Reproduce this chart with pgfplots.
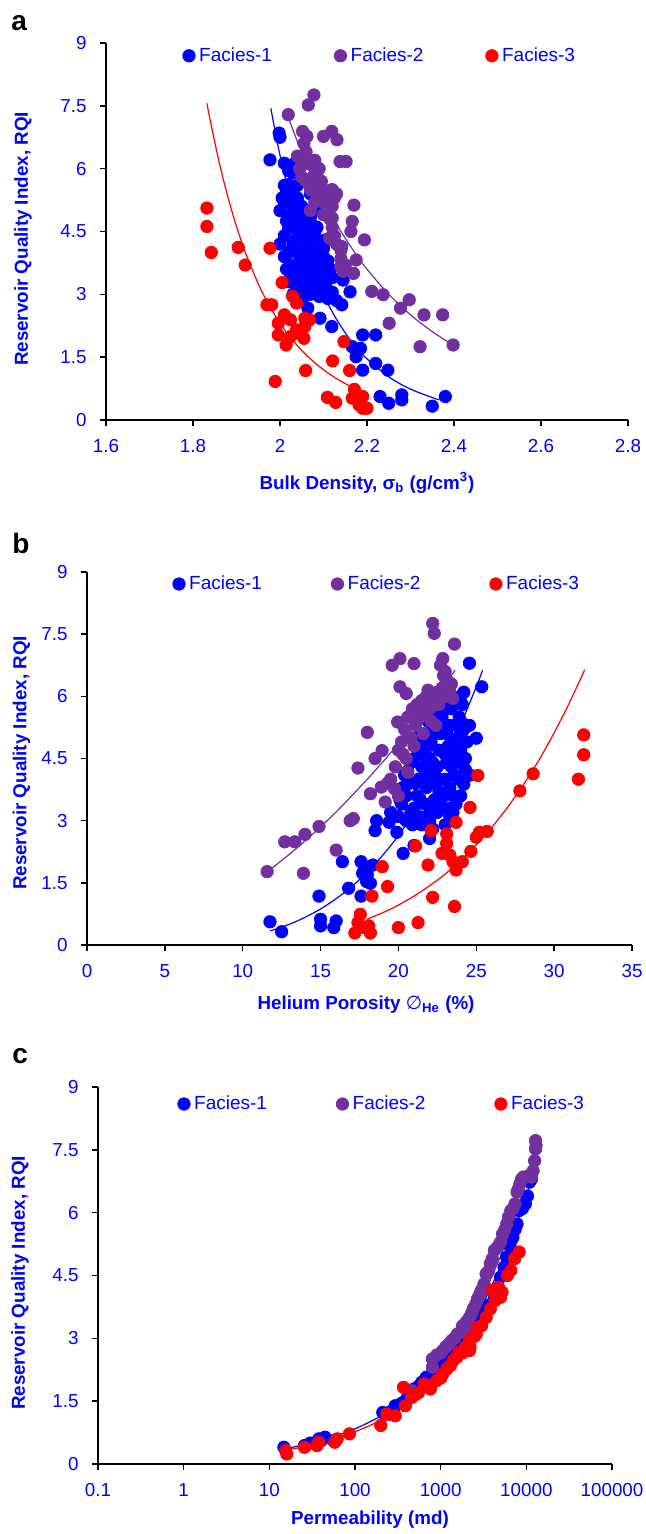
\documentclass[border=0pt]{standalone}
\usepackage{fontspec}
\setmainfont{Liberation Sans}
\newfontfamily\djv{DejaVu Sans}
\usepackage{pgfplots}
\pgfplotsset{compat=1.18}
\definecolor{fblue}{RGB}{0,0,255}
\definecolor{fpurple}{RGB}{112,48,160}
\definecolor{fred}{RGB}{255,0,0}
\newcommand\lblfont{\fontsize{9.4}{11}\selectfont\bfseries}
\pgfplotsset{
  rqi/.style={
    scale only axis,
    anchor=south west,
    axis x line*=bottom, axis y line*=left,
    axis line style={black, line width=0.8pt},
    tick align=outside,
    major tick length=3pt,
    tick style={black, line width=0.7pt},
    ymin=0, ymax=9,
    ytick={0,1.5,3,4.5,6,7.5,9},
    yticklabels={0,1.5,3,4.5,6,7.5,9},
    ticklabel style={font=\fontsize{9.4}{10}\selectfont, text=fblue},
    yticklabel style={anchor=east, inner sep=0pt, xshift=-6.5pt},
    xticklabel style={anchor=north, inner sep=0pt, yshift=-6.5pt},
    every axis y label/.style={rotate=90, anchor=center, font=\lblfont, text=fblue},
    every axis x label/.style={anchor=center, font=\lblfont, text=fblue},
    clip=false,
    legend columns=3,
    legend image code/.code={\draw[mark repeat=2,mark phase=2,##1] plot coordinates {(0pt,0pt) (3.1pt,0pt) (6.2pt,0pt)};},
    legend style={draw=none, fill=none, inner sep=0pt, outer sep=0pt, anchor=west,
      nodes={inner sep=0pt, text=fblue, font=\fontsize{9.5}{10}\selectfont},
      /tikz/every odd column/.append style={column sep=2pt}},
  },
  dots/.style={only marks, mark=*, mark size=3.1pt, color=#1, mark options={draw=none, fill=#1}},
  trend/.style={no marks, smooth, color=#1, line width=0.6pt, forget plot},
}
\begin{document}
\begin{tikzpicture}
\useasboundingbox (0pt,-767pt) rectangle (323pt,0pt);
\node[anchor=base west, inner sep=0pt, font=\bfseries\fontsize{14}{14}\selectfont] at (5.5pt,-15.5pt) {a};
\node[anchor=base west, inner sep=0pt, font=\bfseries\fontsize{14}{14}\selectfont] at (6pt,-276.5pt) {b};
\node[anchor=base west, inner sep=0pt, font=\bfseries\fontsize{14}{14}\selectfont] at (6pt,-531.5pt) {c};

% ---------------- Panel a ----------------
\begin{axis}[rqi, at={(53pt,-210pt)}, width=261pt, height=188.5pt,
  xmin=1.6, xmax=2.8,
  xtick={1.6,1.8,2.0,2.2,2.4,2.6,2.8},
  xticklabels={1.6,1.8,2,2.2,2.4,2.6,2.8},
  xlabel={Bulk Density, σ\textsubscript{b} (g/cm\textsuperscript{3})},
  ylabel={Reservoir Quality Index, RQI},
  xlabel style={at={([yshift=-31.5pt]rel axis cs:0.5,0)}},
  ylabel style={at={([xshift=-41.5pt,yshift=-3.75pt]rel axis cs:0,0.5)}},
  legend style={at={([xshift=38.4pt,yshift=-6.4pt]rel axis cs:0,1)},
    /tikz/every even column/.append style={column sep=31.1pt}},
]
\addplot[dots=fblue] coordinates {
(1.977,6.21)(1.998,6.85)(2.0,6.75)(2.01,6.13)(2.0,5.0)(2.005,5.3)(2.01,5.6)(2.02,5.62)(2.015,5.45)(2.03,5.5)
(2.025,5.2)(2.04,5.3)(2.05,5.1)(2.035,4.95)(2.0,4.2)(2.01,4.4)(2.015,4.75)(2.02,4.9)(2.03,4.6)(2.04,4.7)
(2.05,4.8)(2.06,4.7)(2.065,4.5)(2.07,4.3)(2.08,4.45)(2.09,4.2)(2.1,4.1)(2.075,4.0)(2.06,4.1)(2.05,4.3)
(2.04,4.0)(2.03,4.2)(2.02,4.0)(2.01,3.9)(2.015,3.6)(2.025,3.7)(2.035,3.5)(2.045,3.8)(2.055,3.6)(2.065,3.85)
(2.08,3.7)(2.09,3.5)(2.1,3.6)(2.11,3.8)(2.115,3.6)(2.12,3.4)(2.105,3.2)(2.095,3.1)(2.085,3.3)(2.075,3.2)
(2.07,3.0)(2.06,3.1)(2.05,3.3)(2.04,3.2)(2.03,3.0)(2.02,3.3)(2.025,3.45)(2.045,3.05)(2.055,2.95)(2.08,3.05)
(2.09,2.95)(2.11,2.9)(2.12,3.05)(2.13,2.85)(2.06,5.7)(2.07,5.4)(2.08,5.0)(2.07,4.85)(2.03,5.9)(2.04,6.0)
(2.03,5.0)(2.045,4.5)(2.055,4.0)(2.065,3.5)(2.085,3.95)(2.095,3.75)(2.035,4.3)(2.05,3.7)(2.075,4.65)(2.085,4.6)
(2.06,4.95)(2.1,3.3)(2.01,5.2)(2.02,4.6)(2.04,5.6)(2.03,6.1)(2.02,5.95)(2.1,3.9)(2.105,4.3)(2.06,3.35)
(2.064,2.67)(2.092,2.43)(2.119,2.23)(2.145,3.34)(2.161,3.06)(2.142,2.75)(2.166,1.75)(2.19,2.03)(2.22,2.03)(2.185,1.71)
(2.175,1.51)(2.19,1.19)(2.22,1.35)(2.248,1.19)(2.23,0.56)(2.25,0.4)(2.28,0.6)(2.28,0.48)(2.35,0.33)(2.38,0.56)
};
\addlegendentry{Facies-1}
\addplot[dots=fpurple] coordinates {
(2.019,7.29)(2.065,7.52)(2.078,7.76)(2.052,6.89)(2.062,6.77)(2.055,6.6)(2.1,6.77)(2.119,6.89)(2.131,6.69)(2.138,6.17)
(2.152,6.17)(2.04,6.3)(2.045,6.0)(2.05,6.2)(2.06,6.4)(2.07,6.1)(2.08,6.2)(2.085,5.9)(2.09,6.0)(2.05,5.8)
(2.06,5.7)(2.07,5.5)(2.075,5.8)(2.08,5.6)(2.095,5.7)(2.1,5.5)(2.11,5.4)(2.12,5.5)(2.125,5.3)(2.13,5.4)
(2.09,5.3)(2.1,5.2)(2.11,5.05)(2.12,5.1)(2.08,5.2)(2.07,5.0)(2.1,4.9)(2.115,4.8)(2.12,4.6)(2.125,4.4)
(2.13,4.2)(2.14,4.05)(2.14,3.85)(2.15,3.7)(2.145,3.55)(2.17,5.13)(2.166,4.74)(2.163,4.5)(2.194,4.3)(2.142,4.14)
(2.14,3.66)(2.169,3.5)(2.175,3.82)(2.12,4.82)(2.114,4.34)(2.211,3.07)(2.237,2.99)(2.277,2.67)(2.297,2.87)(2.251,2.31)
(2.331,2.51)(2.374,2.51)(2.322,1.75)(2.398,1.79)
};
\addlegendentry{Facies-2}
\addplot[dots=fred] coordinates {
(1.832,5.06)(1.832,4.62)(1.842,4.0)(1.904,4.12)(1.92,3.7)(1.977,4.1)(2.005,3.28)(1.97,2.75)(1.981,2.75)(2.029,2.95)
(2.038,2.79)(2.01,2.51)(1.996,2.31)(2.024,2.39)(2.057,2.43)(2.068,2.39)(2.038,2.15)(2.057,2.23)(1.996,2.03)(2.014,1.79)
(2.024,1.99)(2.055,1.95)(2.043,2.07)(2.147,1.87)(1.989,0.92)(2.059,1.18)(2.121,1.41)(2.16,1.18)(2.109,0.54)(2.128,0.42)
(2.171,0.73)(2.166,0.52)(2.19,0.56)(2.182,0.36)(2.2,0.28)(2.19,0.28)
};
\addlegendentry{Facies-3}
\addplot[trend=fred] coordinates {(1.832,7.56)(1.84,7.13)(1.86,6.16)(1.88,5.33)(1.9,4.62)(1.92,4.01)(1.95,3.25)(1.975,2.74)(2.0,2.31)(2.025,1.96)(2.05,1.66)(2.075,1.41)(2.1,1.20)(2.125,1.02)(2.15,0.87)(2.18,0.72)};
\addplot[trend=fblue] coordinates {(1.979,7.44)(1.99,6.83)(2.0,6.32)(2.025,5.22)(2.05,4.33)(2.075,3.59)(2.1,2.99)(2.125,2.49)(2.15,2.08)(2.175,1.74)(2.2,1.46)(2.25,1.03)(2.3,0.737)(2.365,0.48)};
\addplot[trend=fpurple] coordinates {(2.02,7.2)(2.035,6.78)(2.05,6.39)(2.075,5.79)(2.1,5.25)(2.125,4.77)(2.15,4.34)(2.175,3.95)(2.2,3.6)(2.25,3.0)(2.3,2.51)(2.35,2.11)(2.398,1.79)};
\end{axis}

% ---------------- Panel b ----------------
\begin{axis}[rqi, at={(43.5pt,-472.5pt)}, width=272.5pt, height=186.5pt,
  xmin=0, xmax=35,
  xtick={0,5,10,15,20,25,30,35},
  xticklabels={0,5,10,15,20,25,30,35},
  xlabel={Helium Porosity {\djv\mdseries ∅}\textsubscript{He} (\%)},
  ylabel={Reservoir Quality Index, RQI},
  xlabel style={at={([xshift=3.25pt,yshift=-30pt]rel axis cs:0.5,0)}},
  ylabel style={at={([xshift=-32.7pt,yshift=-2.25pt]rel axis cs:0,0.5)}},
  legend style={at={([xshift=42.9pt,yshift=-6pt]rel axis cs:0,1)},
    /tikz/every even column/.append style={column sep=34.6pt}},
]
\addplot[dots=fblue] coordinates {
(11.75,0.56)(12.5,0.32)(14.9,1.18)(15.0,0.62)(15.0,0.46)(15.85,0.42)(16.0,0.58)(16.4,2.01)(16.8,1.37)(17.6,2.01)
(17.6,1.18)(17.7,1.73)(17.96,1.53)(18.2,1.49)(18.36,1.93)(18.5,2.76)(18.6,3.0)(19.4,2.96)(19.9,2.72)(20.3,2.21)
(22.0,2.57)(21.0,2.4)(24.56,6.8)(25.35,6.23)(25.0,4.99)(24.0,6.0)(24.56,5.3)(24.2,3.88)(24.3,4.23)(17.8,1.9)
(18.0,1.7)(19.5,3.2)(20.0,3.1)(20.2,3.4)(20.5,3.6)(20.3,3.8)(20.6,4.2)(20.8,4.4)(20.5,3.0)(20.9,2.9)
(21.0,3.3)(21.2,3.6)(21.3,4.0)(21.5,4.3)(21.4,4.7)(21.6,5.0)(21.2,5.0)(21.7,3.4)(21.8,3.8)(21.9,4.1)
(22.0,4.5)(22.1,4.9)(22.2,5.2)(22.0,3.0)(22.3,3.5)(22.4,3.9)(22.5,4.3)(22.6,4.7)(22.7,5.1)(22.8,5.5)
(22.5,3.2)(22.9,3.6)(23.0,4.0)(23.1,4.4)(23.2,4.8)(23.3,5.3)(23.4,5.7)(23.0,2.9)(23.2,3.3)(23.5,3.6)
(23.6,4.1)(23.7,4.6)(23.8,5.0)(23.9,5.5)(23.5,3.2)(24.0,4.7)(24.2,5.2)(24.1,5.8)(23.6,5.9)(22.9,5.8)
(22.4,5.6)(21.9,5.4)(21.0,4.5)(20.7,3.9)(21.5,2.9)(22.2,2.8)(23.7,3.4)(24.3,4.5)
(20.8,3.2)(21.1,3.9)(21.6,4.6)(21.8,3.1)(22.3,4.2)(22.6,3.7)(22.7,4.0)(23.0,4.6)(23.3,3.8)(23.4,4.3)
(23.9,4.0)(23.8,4.4)(24.0,3.6)(22.2,4.4)(22.6,5.3)(23.1,5.1)(23.7,5.3)(24.2,6.1)(24.0,5.4)(21.3,3.1)
(22.8,3.3)(23.3,3.1)(22.1,3.3)(21.4,3.5)(20.4,4.1)(21.9,4.8)(23.5,4.9)(24.4,4.9)(20.1,3.5)(24.6,4.1)
};
\addlegendentry{Facies-1}
\addplot[dots=fpurple] coordinates {
(11.57,1.77)(12.7,2.49)(13.35,2.49)(14.0,2.67)(13.9,1.73)(14.9,2.86)(16.0,2.29)(16.9,3.0)(17.1,3.05)(17.4,4.27)
(18.0,5.13)(18.5,4.5)(18.95,4.69)(18.2,3.65)(18.9,3.81)(19.15,3.45)(19.75,3.77)(19.6,6.75)(20.1,6.91)(21.0,6.79)
(20.1,6.23)(20.5,6.07)(22.2,7.76)(22.3,7.52)(23.6,7.26)(22.85,6.91)(22.7,6.75)(21.9,6.15)(20.6,4.17)(19.95,5.38)
(19.5,4.0)(19.8,4.3)(20.0,4.7)(20.2,4.9)(20.4,5.2)(20.6,5.5)(20.8,5.0)(20.9,5.7)(21.1,5.3)(21.2,5.8)
(21.4,5.5)(21.5,5.9)(21.7,5.6)(21.8,6.0)(22.0,5.7)(22.1,5.4)(22.3,5.9)(22.5,6.1)(22.6,5.8)(22.8,6.2)
(23.0,6.0)(23.1,6.4)(23.3,6.1)(23.4,6.3)(23.0,6.6)(22.9,6.5)(21.6,5.1)(21.0,4.8)(20.5,4.5)(20.3,4.6)
(20.0,3.6)(19.3,3.9)(22.4,5.3)(23.5,5.95)
};
\addlegendentry{Facies-2}
\addplot[dots=fred] coordinates {
(17.2,0.29)(17.55,0.74)(17.4,0.54)(17.8,0.42)(18.2,0.29)(18.1,0.46)(18.3,1.18)(18.96,1.89)(19.3,1.41)(20.0,0.42)
(21.26,0.54)(21.1,2.39)(21.9,1.93)(22.1,2.76)(22.2,1.15)(22.8,2.21)(23.1,2.68)(23.1,2.45)(23.3,2.17)(23.5,2.01)
(23.7,1.81)(23.6,0.93)(23.7,2.96)(24.1,2.01)(24.6,3.32)(24.65,2.26)(25.0,2.6)(25.1,4.09)(25.2,2.72)(25.7,2.74)
(27.8,3.72)(28.65,4.13)(31.56,4.0)(31.9,4.59)(31.9,5.07)
};
\addlegendentry{Facies-3}
\addplot[trend=fblue] coordinates {(11.75,0.34)(12,0.369)(13,0.50)(14,0.668)(15,0.87)(16,1.117)(17,1.41)(18,1.76)(19,2.17)(20,2.64)(21,3.19)(22,3.81)(23,4.52)(24,5.33)(25,6.23)(25.4,6.63)};
\addplot[trend=fpurple] coordinates {(11.6,1.77)(13,2.19)(14,2.51)(15,2.85)(16,3.21)(17,3.60)(18,4.0)(19,4.42)(20,4.86)(21,5.32)(22,5.80)(23,6.30)(23.64,6.63)};
\addplot[trend=fred] coordinates {(17.96,0.62)(19,0.78)(20,0.965)(21,1.18)(22,1.43)(23,1.71)(24,2.04)(25,2.42)(26,2.84)(27,3.32)(28,3.85)(29,4.45)(30,5.12)(31,5.86)(31.96,6.64)};
\end{axis}

% ---------------- Panel c ----------------
\begin{axis}[rqi, at={(49pt,-732pt)}, width=257pt, height=188.5pt,
  xmode=log, xmin=0.1, xmax=100000,
  xtick={0.1,1,10,100,1000,10000,100000},
  xticklabels={0.1,1,10,100,1000,10000,100000},
  xminorticks=false,
  xlabel={Permeability (md)},
  ylabel={Reservoir Quality Index, RQI},
  xlabel style={at={([xshift=7.5pt,yshift=-28pt]rel axis cs:0.5,0)}},
  ylabel style={at={([xshift=-39pt,yshift=-3.75pt]rel axis cs:0,0.5)}},
  legend style={at={([xshift=39.9pt,yshift=-8.5pt]rel axis cs:0,1)},
    /tikz/every even column/.append style={column sep=34.6pt}},
]
\addplot[dots=fblue] coordinates {
(14.8,0.4)(25.7,0.44)(37.8,0.6)(44.7,0.64)(55.8,0.56)(211,1.23)(250,1.19)(295,1.39)(486,1.79)(678,2.07)
(895,2.27)(1250,2.55)(1400,2.63)(1740,2.95)(1950,3.18)(2170,3.26)(2870,3.46)(3390,3.66)(4240,3.94)(5000,4.46)
(5900,4.94)(6970,5.41)(7790,5.73)(8240,6.05)(9730,6.21)(10900,6.73)(11500,6.81)
(30,0.5)(40,0.55)(220,1.2)(260,1.25)(350,1.45)(400,1.55)(550,1.85)(600,1.95)(750,2.1)(1000,2.4)
(1100,2.45)(1600,2.8)(2400,3.35)(2600,3.4)(3100,3.55)(3700,3.8)(4500,4.2)(5500,4.7)(6400,5.2)(7400,5.6)
(9000,6.1)(10300,6.4)
};
\addlegendentry{Facies-1}
\addplot[dots=fpurple] coordinates {
(460,1.75)(800,2.31)(800,2.51)(1060,2.71)(1250,2.87)(1560,3.1)(1950,3.26)(2170,3.5)(2570,3.82)(2870,4.06)
(3210,4.3)(3390,4.54)(3790,4.78)(4240,5.1)(4730,5.21)(5280,5.49)(5900,5.73)(6590,6.05)(7360,6.21)(7790,6.49)
(8400,6.69)(9200,6.85)(10870,6.89)(12500,7.24)(12800,7.52)(12800,7.72)
(900,2.6)(1000,2.65)(1150,2.8)(1350,2.95)(1450,3.0)(1700,3.15)(1800,3.3)(2000,3.4)(2300,3.6)(2400,3.7)
(2700,3.95)(3000,4.15)(3100,4.2)(3600,4.6)(4000,4.9)(4500,5.15)(5000,5.3)(5600,5.6)(6200,5.9)(7000,6.1)
(8000,6.55)(8800,6.8)(9800,6.85)(11500,6.85)(12000,7.0)(13000,7.6)
};
\addlegendentry{Facies-2}
\addplot[dots=fred] coordinates {
(15.5,0.32)(16,0.24)(25.7,0.4)(35.9,0.44)(37.8,0.52)(62,0.6)(58,0.52)(86,0.72)(200,0.92)(235,1.19)
(295,1.15)(368,1.83)(387,1.39)(460,1.59)(640,1.91)(760,1.79)(895,1.99)(1060,2.15)(1180,2.27)(1400,2.47)
(1650,2.67)(1950,2.79)(2170,2.95)(2170,2.71)(2720,3.26)(3790,3.7)(4000,4.14)(4730,4.22)(5000,3.98)(6590,4.62)
(8240,5.06)
(500,1.65)(550,1.7)(700,1.85)(1000,2.05)(1300,2.35)(1550,2.55)(1800,2.65)(2500,3.05)(3000,3.3)(3400,3.5)
(4300,3.9)(5200,4.1)(6000,4.5)(7300,4.9)(2200,2.8)(2600,3.1)
};
\addlegendentry{Facies-3}
\addplot[trend=fpurple] coordinates {(700,2.05)(1500,2.89)(3000,3.94)(6000,5.37)(10000,6.76)(13000,7.6)};
\addplot[trend=fred] coordinates {(15,0.33)(30,0.449)(100,0.77)(300,1.25)(1000,2.13)(3000,3.47)(5000,4.35)(7800,5.3)};
\addplot[trend=fblue] coordinates {(14.8,0.36)(30,0.49)(50,0.62)(100,0.84)(200,1.14)(300,1.36)(500,1.70)(1000,2.31)(2000,3.14)(3000,3.76)(5000,4.72)(7000,5.47)(10000,6.40)(11500,6.81)};
\end{axis}
\end{tikzpicture}
\end{document}
